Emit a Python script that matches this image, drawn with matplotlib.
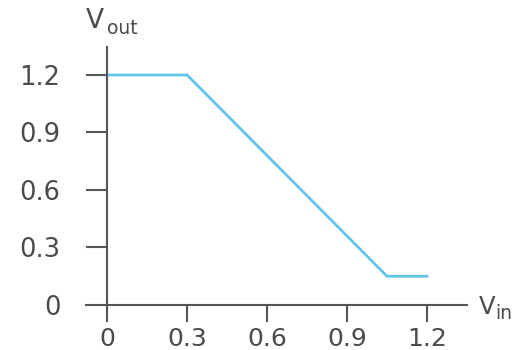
import matplotlib
matplotlib.use("Agg")
import matplotlib.pyplot as plt

# transfer curve corner points
vin = [0.0, 0.3, 1.05, 1.2]
vout = [1.2, 1.2, 0.15, 0.15]

xticks = [0, 0.3, 0.6, 0.9, 1.2]
xtick_labels = ["0", "0.3", "0.6", "0.9", "1.2"]
yticks = [0, 0.3, 0.6, 0.9, 1.2]
ytick_labels = ["0", "0.3", "0.6", "0.9", "1.2"]

plt.rcParams['font.family'] = ['DejaVu Sans']

axis_col = '#555555'
text_col = '#4a4a4a'
line_col = '#62c4ea'

fig = plt.figure(figsize=(5.22, 3.5), dpi=100)
ax = fig.add_axes([86/522, 45/350, 381/522, 258/350])

ax.plot(vin, vout, color=line_col, linewidth=2, solid_joinstyle='miter')

ax.set_xlim(-0.079, 1.35)
ax.set_ylim(0, 1.346)

for s in ['top', 'right']:
    ax.spines[s].set_visible(False)
ax.spines['left'].set_position(('data', 0))
ax.spines['left'].set_color(axis_col)
ax.spines['bottom'].set_color(axis_col)
ax.spines['left'].set_linewidth(1.5)
ax.spines['bottom'].set_linewidth(1.5)

ax.set_xticks(xticks)
ax.set_xticklabels(xtick_labels)
ax.set_yticks(yticks)
ax.set_yticklabels(ytick_labels)

ax.tick_params(axis='x', direction='out', length=12.2, width=1.5, color=axis_col,
               labelsize=18, labelcolor=text_col, pad=3.6)
ax.tick_params(axis='y', direction='out', length=15, width=1.5, color=axis_col,
               labelsize=18.5, labelcolor=text_col, pad=18.7)
# no tick mark at y = 0, only the label
ax.yaxis.get_major_ticks()[0].tick1line.set_visible(False)

# axis names: V with a subscript
fig.text(86/522, 1 - 28/350, 'V', fontsize=19, color=text_col, ha='left', va='baseline')
fig.text(107/522, 1 - 34/350, 'out', fontsize=13.5, color=text_col, ha='left', va='baseline')
fig.text(479/522, 1 - 314/350, 'V', fontsize=17.5, color=text_col, ha='left', va='baseline')
fig.text(495/522, 1 - 319/350, 'in', fontsize=13.5, color=text_col, ha='left', va='baseline')

fig.savefig('out.png', dpi=100)
